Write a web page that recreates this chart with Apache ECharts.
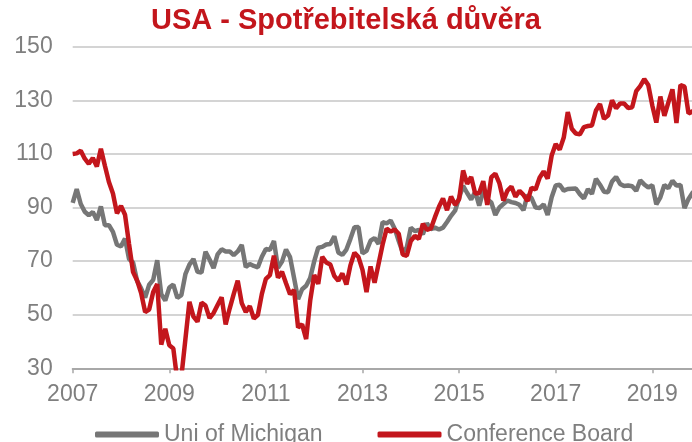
<!DOCTYPE html>
<html>
<head>
<meta charset="utf-8">
<title>USA - Spotřebitelská důvěra</title>
<script src="https://cdn.jsdelivr.net/npm/echarts@6/dist/echarts.min.js"></script>
<style>
  html, body { margin: 0; padding: 0; background: #fff; }
  #chart { width: 692px; height: 442px; }
</style>
</head>
<body>
<div id="chart"></div>
<script>
// monthly values, first point is Dec 2006 (sits on the 2007 tick), last is Nov 2019
const startYear = 2007
const yearTicks = [2007, 2009, 2011, 2013, 2015, 2017, 2019]

const michigan = [91.7,
  96.9, 91.3, 88.4, 87.1, 88.3, 85.3, 90.4, 83.4, 83.4, 80.9, 76.1, 75.5,
  78.4, 70.8, 69.5, 62.6, 59.8, 56.4, 61.2, 63.0, 70.3, 57.6, 55.3, 60.1,
  61.2, 56.3, 57.3, 65.1, 68.7, 70.8, 66.0, 65.7, 73.5, 70.6, 67.4, 72.5,
  74.4, 73.6, 73.6, 72.2, 73.6, 76.0, 67.8, 68.9, 68.2, 67.7, 71.6, 74.5,
  74.2, 77.5, 67.5, 69.8, 74.3, 71.5, 63.7, 55.8, 59.5, 60.8, 63.7, 69.9,
  75.0, 75.3, 76.2, 76.4, 79.3, 73.2, 72.3, 74.3, 78.3, 82.6, 82.7, 72.9,
  73.8, 77.6, 78.6, 76.4, 84.5, 84.1, 85.1, 82.1, 77.5, 73.2, 75.1, 82.5,
  81.2, 81.6, 80.0, 84.1, 81.9, 82.5, 81.8, 82.5, 84.6, 86.9, 88.8, 93.6,
  98.1, 95.4, 93.0, 95.9, 90.7, 96.1, 93.1, 91.9, 87.2, 90.0, 91.3, 92.6,
  92.0, 91.7, 91.0, 89.0, 94.7, 93.5, 90.0, 89.8, 91.2, 87.2, 93.8, 98.2,
  98.5, 96.3, 96.9, 97.0, 97.1, 95.0, 93.4, 96.8, 95.1, 100.7, 98.5, 95.9,
  95.7, 99.7, 101.4, 98.8, 98.0, 98.2, 97.9, 96.2, 100.1, 98.6, 97.5, 98.3,
  91.2, 93.8, 98.4, 97.2, 100.0, 98.2, 98.4, 89.8, 93.2, 95.5, 96.8]

const conference = [110.0,
  110.2, 111.2, 108.2, 106.3, 108.5, 105.3, 111.9, 105.6, 99.5, 95.2, 87.8, 90.6,
  87.3, 76.4, 65.9, 62.8, 58.1, 51.0, 51.9, 58.5, 61.4, 38.8, 44.7, 38.6,
  37.4, 25.3, 26.9, 40.8, 54.8, 49.3, 47.4, 54.5, 53.4, 48.7, 50.6, 53.6,
  56.5, 46.4, 52.3, 57.7, 62.7, 54.3, 51.0, 53.2, 48.6, 49.9, 57.8, 63.4,
  64.8, 72.0, 63.8, 66.0, 61.7, 57.6, 59.2, 45.2, 46.4, 40.9, 55.2, 64.8,
  61.5, 71.6, 69.5, 68.7, 64.4, 62.7, 65.4, 61.3, 68.4, 73.1, 71.5, 66.7,
  58.4, 68.0, 61.9, 69.0, 76.2, 82.1, 81.0, 81.8, 80.2, 72.4, 72.0, 77.5,
  79.4, 78.3, 83.9, 81.7, 82.2, 86.4, 90.3, 93.4, 89.0, 94.1, 91.0, 93.1,
  103.8, 98.8, 101.4, 95.2, 95.4, 99.8, 91.0, 101.3, 102.6, 99.1, 92.6, 96.3,
  97.8, 94.0, 96.2, 94.7, 92.4, 97.4, 96.7, 101.1, 103.5, 100.8, 109.4, 113.7,
  111.6, 116.1, 125.6, 119.4, 117.6, 117.3, 120.0, 120.4, 120.6, 126.2, 128.6, 123.1,
  124.3, 130.0, 127.0, 128.8, 128.8, 127.1, 127.4, 133.4, 135.3, 137.9, 135.7, 128.1,
  121.7, 131.4, 124.2, 129.2, 134.1, 121.5, 135.7, 135.1, 125.1, 125.9, 125.5]

const seriesNames = ['Uni of Michigan', 'Conference Board']
const seriesColors = ['#767676', '#c3161c']

function toPoints(values) {
  return values.map((v, i) => [startYear + i / 12, v])
}

const font = 'Liberation Sans, Arial, sans-serif'
const chart = echarts.init(document.getElementById('chart'))

chart.setOption({
  animation: false,
  title: {
    text: 'USA - Spotřebitelská důvěra',
    left: 146,
    top: 1,
    textStyle: {
      fontFamily: font,
      fontSize: 29,
      fontWeight: 'bold',
      color: '#c3161c'
    }
  },
  legend: {
    left: 90,
    top: 418,
    itemWidth: 64,
    itemHeight: 6,
    itemGap: 55,
    icon: 'roundRect',
    textStyle: {
      fontFamily: font,
      fontSize: 23,
      color: '#7f7f7f'
    },
    data: seriesNames
  },
  grid: {
    left: 72.7,
    right: 0,
    top: 46.7,
    bottom: 73.7
  },
  xAxis: {
    type: 'value',
    min: 2007,
    max: 2019.822,
    axisLine: {
      lineStyle: { color: '#a8a8a8', width: 2 }
    },
    axisTick: {
      length: 5,
      customValues: yearTicks,
      lineStyle: { color: '#a8a8a8', width: 1.5 }
    },
    axisLabel: {
      customValues: yearTicks,
      formatter: v => String(v),
      margin: 15,
      fontFamily: font,
      fontSize: 23,
      color: '#7f7f7f'
    },
    splitLine: { show: false }
  },
  yAxis: {
    type: 'value',
    min: 30,
    max: 150,
    interval: 20,
    axisLine: { show: false },
    axisTick: { show: false },
    axisLabel: {
      margin: 20,
      fontFamily: font,
      fontSize: 23,
      color: '#7f7f7f'
    },
    splitLine: {
      lineStyle: { color: '#c6c6c6', width: 1.5 }
    }
  },
  series: [
    {
      name: seriesNames[0],
      type: 'line',
      data: toPoints(michigan),
      showSymbol: false,
      color: seriesColors[0],
      lineStyle: { width: 4.5, color: seriesColors[0] }
    },
    {
      name: seriesNames[1],
      type: 'line',
      data: toPoints(conference),
      showSymbol: false,
      color: seriesColors[1],
      lineStyle: { width: 4.5, color: seriesColors[1] }
    }
  ]
})
</script>
</body>
</html>
